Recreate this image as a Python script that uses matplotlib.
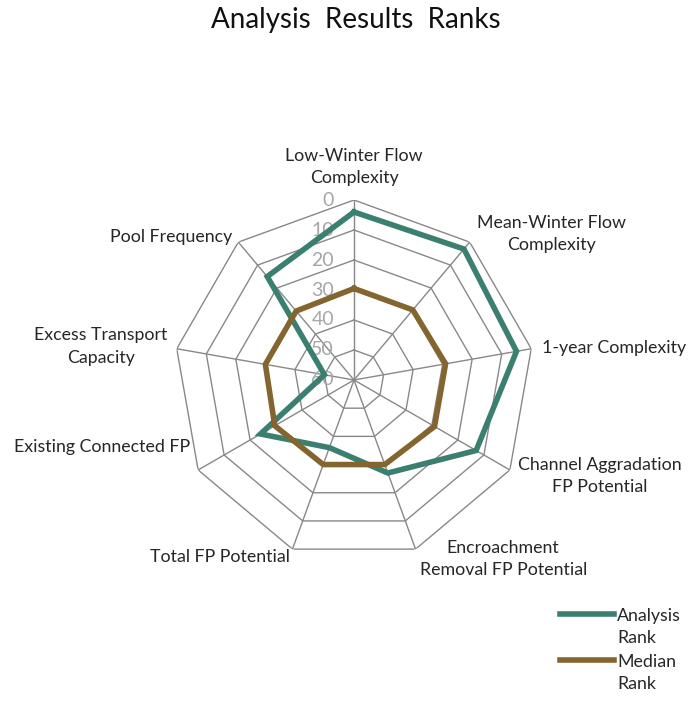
import numpy as np
import matplotlib
matplotlib.use("Agg")
import matplotlib.pyplot as plt
from matplotlib.transforms import ScaledTranslation

plt.rcParams["font.family"] = ["Lato", "DejaVu Sans"]

categories = [
    "Low-Winter Flow\nComplexity",
    "Mean-Winter Flow\nComplexity",
    "1-year Complexity",
    "Channel Aggradation\nFP Potential",
    "Encroachment\nRemoval FP Potential",
    "Total FP Potential",
    "Existing Connected FP",
    "Excess Transport\nCapacity",
    "Pool Frequency",
]
analysis_rank = [4, 3, 5, 13, 27, 36, 24, 50, 15]
median_rank = [29.5, 29.5, 29, 29, 30, 30, 29.5, 30, 30]
rank_ticks = [0, 10, 20, 30, 40, 50, 60]
series_names = ["Analysis\nRank", "Median\nRank"]

# label placement around the outer ring: (ha, va, dx px, dy px)
label_place = [
    ("center", "bottom", 0, 14),
    ("left", "center", 7, 8),
    ("left", "center", 11, 1),
    ("left", "center", 8, -6),
    ("left", "center", 4, -10),
    ("right", "center", -3, -8),
    ("right", "center", -8, 23),
    ("right", "center", -9, 2),
    ("right", "center", -6, 5),
]

teal = "#3B7F70"
brown = "#84652F"
grid_color = "#888888"
text_color = "#262626"

fig = plt.figure(figsize=(6.9, 7.05), dpi=100)
ax = fig.add_axes([0.2522, 0.2057, 0.5217, 0.5106], projection="polar")
ax.set_theta_offset(np.pi / 2)
ax.set_theta_direction(-1)
ax.set_ylim(max(rank_ticks), min(rank_ticks))  # rank 0 on the outside
ax.grid(False)
ax.spines["polar"].set_visible(False)
ax.set_xticks([])
ax.set_yticks([])
ax.patch.set_visible(False)

n = len(categories)
theta = np.arange(n) * 2 * np.pi / n
theta_closed = np.append(theta, theta[0])

# polygonal rings and spokes
for lvl in rank_ticks[:-1]:
    ax.plot(theta_closed, [lvl] * (n + 1), color=grid_color, lw=1.0, zorder=1)
for t in theta:
    ax.plot([t, t], [max(rank_ticks), min(rank_ticks)], color=grid_color, lw=1.0, zorder=1)

# data series
ax.plot(theta_closed, analysis_rank + analysis_rank[:1], color=teal, lw=4.0,
        solid_joinstyle="miter", zorder=3, label=series_names[0])
ax.plot(theta_closed, median_rank + median_rank[:1], color=brown, lw=4.0,
        solid_joinstyle="miter", zorder=3, label=series_names[1])

# radial value labels along the first spoke
px = 72 / fig.dpi
shift = ScaledTranslation(-20 * px / 72, 0, fig.dpi_scale_trans)
for lvl in rank_ticks:
    ax.text(0, lvl, str(lvl), transform=ax.transData + shift, ha="right",
            va="center", fontsize=14, color="#A6A6A6", zorder=2)

# category labels outside the outer ring
for t, lab, (ha, va, dx, dy) in zip(theta, categories, label_place):
    off = ScaledTranslation(dx * px / 72, dy * px / 72, fig.dpi_scale_trans)
    ax.text(t, 0, lab, transform=ax.transData + off, ha=ha, va=va,
            multialignment="center", fontsize=12.8, color=text_color,
            linespacing=1.5)

fig.text(0.515, 0.972, "Analysis  Results  Ranks", ha="center", va="center",
         fontsize=20, color="#111111")

leg = fig.legend(loc="upper left", bbox_to_anchor=(0.812, 1 - 608 / 705),
                 frameon=False, fontsize=12.8, handlelength=3.0,
                 handletextpad=0.2, labelspacing=0.45, borderpad=0,
                 borderaxespad=0, bbox_transform=fig.transFigure)
for txt in leg.get_texts():
    txt.set_linespacing(1.45)
    txt.set_color(text_color)
# put each swatch beside the first line of its label
for column in leg._legend_handle_box.get_children():
    for item in column.get_children():
        item.align = "top"

fig.savefig("out.png", dpi=100)
